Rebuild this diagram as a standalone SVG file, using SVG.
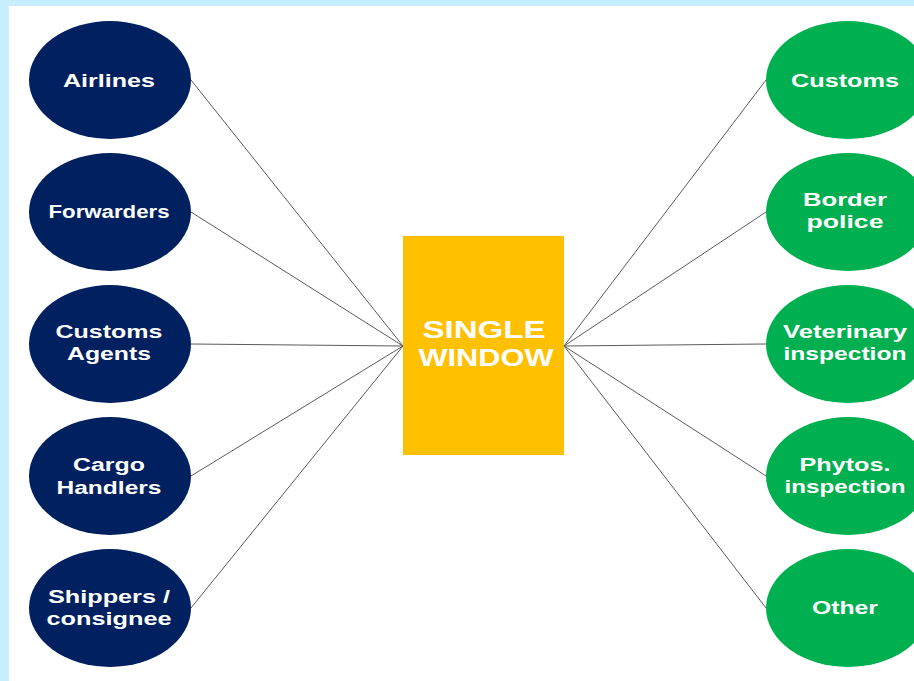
<svg xmlns="http://www.w3.org/2000/svg" width="914" height="681" viewBox="0 0 914 681">
<style>
.bg{fill:#C6EEFF}
.src{fill:#002060}
.dst{fill:#00B050}
.lbl{font-family:"Liberation Sans",Arial,sans-serif;font-weight:bold;font-size:18px;fill:#FFFFFF;text-anchor:middle}
.big{font-family:"Liberation Sans",Arial,sans-serif;font-weight:bold;font-size:24px;fill:#FFFFFF;text-anchor:middle}
.conn line{stroke:#5a5a5a;stroke-width:1}
</style>
<rect class="bg" x="0" y="0" width="914" height="681"/>
<rect x="9" y="6" width="905" height="675" fill="#FFFFFF"/>
<g id="connectors" class="conn">
<line x1="191" y1="80" x2="403" y2="346"/>
<line x1="191" y1="212" x2="403" y2="346"/>
<line x1="191" y1="344" x2="403" y2="346"/>
<line x1="191" y1="476" x2="403" y2="346"/>
<line x1="191" y1="608" x2="403" y2="346"/>
<line x1="564" y1="346" x2="766" y2="80"/>
<line x1="564" y1="346" x2="766" y2="212"/>
<line x1="564" y1="346" x2="766" y2="344"/>
<line x1="564" y1="346" x2="766" y2="476"/>
<line x1="564" y1="346" x2="766" y2="608"/>
</g>
<g id="single-window">
<rect x="403" y="236" width="161" height="219" fill="#FFC000"/>
<text class="big" x="484" y="338" textLength="123" lengthAdjust="spacingAndGlyphs">SINGLE</text>
<text class="big" x="486" y="366" textLength="135" lengthAdjust="spacingAndGlyphs">WINDOW</text>
</g>
<g id="airlines">
<ellipse class="src" cx="110" cy="80" rx="81" ry="59"/>
<text class="lbl" x="109" y="87" textLength="92" lengthAdjust="spacingAndGlyphs">Airlines</text>
</g>
<g id="forwarders">
<ellipse class="src" cx="110" cy="212" rx="81" ry="59"/>
<text class="lbl" x="109" y="218" textLength="121" lengthAdjust="spacingAndGlyphs">Forwarders</text>
</g>
<g id="customs-agents">
<ellipse class="src" cx="110" cy="344" rx="81" ry="59"/>
<text class="lbl" x="109" y="338" textLength="107" lengthAdjust="spacingAndGlyphs">Customs</text>
<text class="lbl" x="109" y="360" textLength="84" lengthAdjust="spacingAndGlyphs">Agents</text>
</g>
<g id="cargo-handlers">
<ellipse class="src" cx="110" cy="476" rx="81" ry="59"/>
<text class="lbl" x="109" y="471" textLength="72" lengthAdjust="spacingAndGlyphs">Cargo</text>
<text class="lbl" x="109" y="494" textLength="105" lengthAdjust="spacingAndGlyphs">Handlers</text>
</g>
<g id="shippers">
<ellipse class="src" cx="110" cy="608" rx="81" ry="59"/>
<text class="lbl" x="109" y="603" textLength="122" lengthAdjust="spacingAndGlyphs">Shippers /</text>
<text class="lbl" x="109" y="625" textLength="125" lengthAdjust="spacingAndGlyphs">consignee</text>
</g>
<g id="customs">
<ellipse class="dst" cx="848" cy="80" rx="82" ry="59"/>
<text class="lbl" x="845" y="87" textLength="108" lengthAdjust="spacingAndGlyphs">Customs</text>
</g>
<g id="border-police">
<ellipse class="dst" cx="848" cy="212" rx="82" ry="59"/>
<text class="lbl" x="845" y="206" textLength="84" lengthAdjust="spacingAndGlyphs">Border</text>
<text class="lbl" x="845" y="228" textLength="77" lengthAdjust="spacingAndGlyphs">police</text>
</g>
<g id="veterinary">
<ellipse class="dst" cx="848" cy="344" rx="82" ry="59"/>
<text class="lbl" x="845" y="338" textLength="124" lengthAdjust="spacingAndGlyphs">Veterinary</text>
<text class="lbl" x="845" y="360" textLength="123" lengthAdjust="spacingAndGlyphs">inspection</text>
</g>
<g id="phytos">
<ellipse class="dst" cx="848" cy="476" rx="82" ry="59"/>
<text class="lbl" x="845" y="471" textLength="91" lengthAdjust="spacingAndGlyphs">Phytos.</text>
<text class="lbl" x="845" y="493" textLength="121" lengthAdjust="spacingAndGlyphs">inspection</text>
</g>
<g id="other">
<ellipse class="dst" cx="848" cy="608" rx="82" ry="59"/>
<text class="lbl" x="845" y="614" textLength="66" lengthAdjust="spacingAndGlyphs">Other</text>
</g>
</svg>
